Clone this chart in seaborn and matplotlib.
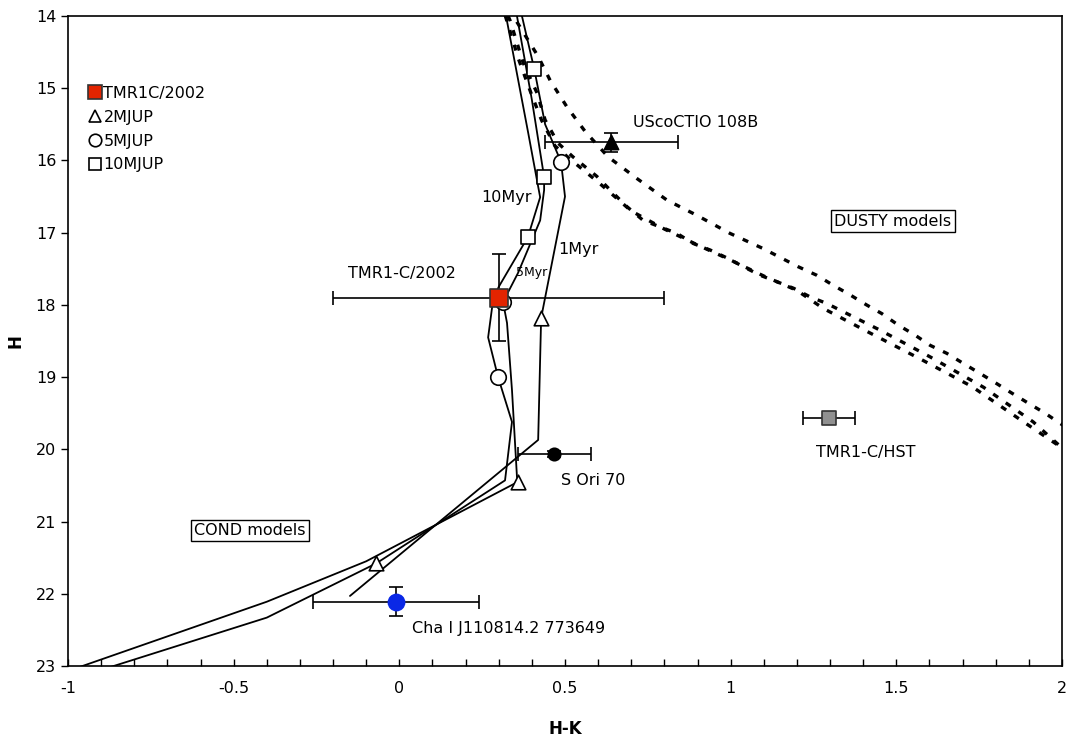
import numpy as np
import pandas as pd
import matplotlib
matplotlib.use("Agg")
import matplotlib.pyplot as plt
from matplotlib.lines import Line2D
import seaborn as sns

# COND isochrones (H-K, H)
iso_1myr_hk = [0.35, 0.37, 0.407, 0.44, 0.488, 0.50, 0.428, 0.419, -0.149]
iso_1myr_h = [13.6, 14.0, 14.73, 15.5, 16.02, 16.5, 18.18, 19.87, 22.03]

iso_5myr_hk = [0.34, 0.355, 0.40, 0.437, 0.437, 0.425, 0.358, 0.313, 0.325, 0.340, 0.355, 0.358,
               -0.10, -0.40, -1.05]
iso_5myr_h = [13.6, 14.0, 15.16, 16.23, 16.41, 16.83, 17.56, 17.96, 18.25, 19.18, 20.38, 20.45,
              21.55, 22.11, 23.15]

iso_10myr_hk = [0.31, 0.322, 0.389, 0.425, 0.388, 0.30, 0.283, 0.268, 0.298, 0.340, 0.319,
                -0.07, -0.40, -1.0]
iso_10myr_h = [13.6, 14.0, 15.62, 16.51, 17.06, 17.75, 17.93, 18.45, 19.0, 19.62, 20.43,
               21.58, 22.33, 23.2]

# DUSTY isochrones
dusty_a_hk = [0.33, 0.364, 0.419, 0.455, 0.506, 0.561, 0.630, 0.717, 0.808, 0.898, 0.998, 1.098,
              1.203, 1.26, 1.31, 1.36, 1.41, 1.456, 1.506, 1.557, 1.602, 1.652, 1.702, 1.753,
              1.803, 1.848, 1.898, 1.949, 1.994, 2.05]
dusty_a_h = [13.9, 14.15, 14.56, 14.89, 15.26, 15.60, 15.95, 16.25, 16.55, 16.76, 17.01, 17.22,
             17.47, 17.59, 17.73, 17.86, 18.0, 18.12, 18.28, 18.42, 18.56, 18.67, 18.81, 18.95,
             19.09, 19.22, 19.36, 19.50, 19.64, 19.80]

dusty_b_hk = [0.31, 0.334, 0.374, 0.416, 0.44, 0.479, 0.524, 0.596, 0.645, 0.687, 0.736, 0.787,
              0.838, 0.887, 0.938, 0.989, 1.038, 1.089, 1.14, 1.19, 1.24, 1.29, 1.451, 1.602,
              1.763, 1.913, 2.0, 2.05]
dusty_b_h = [13.8, 14.06, 14.65, 15.07, 15.44, 15.76, 15.95, 16.22, 16.45, 16.64, 16.83, 16.92,
             17.01, 17.15, 17.24, 17.35, 17.47, 17.59, 17.68, 17.77, 17.89, 17.98, 18.35, 18.72,
             19.14, 19.62, 19.98, 20.15]

dusty_c_hk = [0.30, 0.32, 0.36, 0.40, 0.43, 0.47, 0.52, 0.60, 0.70, 0.80, 0.90, 1.0, 1.1, 1.2,
              1.28, 1.421, 1.577, 1.728, 1.868, 2.0, 2.05]
dusty_c_h = [13.8, 14.0, 14.6, 15.1, 15.45, 15.8, 16.0, 16.3, 16.7, 16.95, 17.17, 17.38, 17.6,
             17.8, 18.05, 18.39, 18.76, 19.13, 19.57, 19.98, 20.15]

# model mass points
mjup2_hk = [0.428, 0.358, -0.07]
mjup2_h = [18.18, 20.45, 21.58]
mjup5_hk = [0.488, 0.313, 0.298]
mjup5_h = [16.02, 17.96, 19.0]
mjup10_hk = [0.407, 0.437, 0.388]
mjup10_h = [14.73, 16.23, 17.06]

# observed objects: name, H-K, H, err(H-K), err(H)
obj_names = ["TMR1-C/2002", "UScoCTIO 108B", "S Ori 70", "TMR1-C/HST", "Cha I J110814.2 773649"]
obj_hk = [0.30, 0.64, 0.467, 1.297, -0.01]
obj_h = [17.9, 15.75, 20.06, 19.56, 22.11]
obj_hk_err = [0.5, 0.2, 0.11, 0.078, 0.25]
obj_h_err = [0.6, 0.13, 0.04, 0.0, 0.2]

sns.set_style("ticks")
plt.rcParams["font.family"] = ["DejaVu Sans"]
plt.rcParams["axes.unicode_minus"] = False
plt.rcParams["text.color"] = "black"
plt.rcParams["xtick.color"] = "black"
plt.rcParams["ytick.color"] = "black"
plt.rcParams["axes.labelcolor"] = "black"

fig = plt.figure(figsize=(10.68, 7.42), dpi=100)
ax = fig.add_axes([68 / 1068, 1 - 666 / 742, 994 / 1068, 650 / 742])

for hk, h in [(iso_1myr_hk, iso_1myr_h), (iso_5myr_hk, iso_5myr_h), (iso_10myr_hk, iso_10myr_h)]:
    sns.lineplot(x=hk, y=h, sort=False, estimator=None, color="black", lw=1.3, ax=ax)

for hk, h in [(dusty_a_hk, dusty_a_h), (dusty_b_hk, dusty_b_h), (dusty_c_hk, dusty_c_h)]:
    sns.lineplot(x=hk, y=h, sort=False, estimator=None, color="black", lw=2.4,
                 linestyle=(0, (1.8, 2.8)), ax=ax)

open_kw = dict(facecolor="white", edgecolor="black", linewidth=1.2, zorder=4, ax=ax)
sns.scatterplot(x=mjup2_hk, y=mjup2_h, marker="^", s=110, **open_kw)
sns.scatterplot(x=mjup5_hk, y=mjup5_h, marker="o", s=125, **open_kw)
sns.scatterplot(x=mjup10_hk, y=mjup10_h, marker="s", s=115, **open_kw)

# error bars
for i in range(len(obj_names)):
    ax.errorbar(obj_hk[i], obj_h[i], xerr=obj_hk_err[i],
                yerr=obj_h_err[i] if obj_h_err[i] > 0 else None,
                fmt="none", ecolor="black", elinewidth=1.2, capsize=5, capthick=1.2, zorder=3)

obj_marker = ["s", "^", "o", "s", "o"]
obj_color = ["#E32400", "black", "black", "#909090", "#0A28E6"]
obj_size = [160, 105, 80, 95, 135]
for i in range(len(obj_names)):
    sns.scatterplot(x=[obj_hk[i]], y=[obj_h[i]], marker=obj_marker[i], s=obj_size[i],
                    color=obj_color[i], edgecolor="#333333" if i in (0, 3) else obj_color[i],
                    linewidth=1.2, zorder=5, ax=ax)

fs = 11.5
ax.text(0.705, 15.48, "UScoCTIO 108B", fontsize=fs, va="center")
ax.text(0.247, 16.52, "10Myr", fontsize=fs, va="center")
ax.text(0.479, 17.23, "1Myr", fontsize=fs, va="center")
ax.text(0.352, 17.55, "5Myr", fontsize=9, va="center")
ax.text(-0.155, 17.56, "TMR1-C/2002", fontsize=fs, va="center")
ax.text(1.49, 16.84, "DUSTY models", fontsize=fs, va="center", ha="center",
        bbox=dict(boxstyle="square,pad=0.2", facecolor="white", edgecolor="black", lw=1))
ax.text(1.258, 20.04, "TMR1-C/HST", fontsize=fs, va="center")
ax.text(0.488, 20.43, "S Ori 70", fontsize=fs, va="center")
ax.text(-0.45, 21.12, "COND models", fontsize=fs, va="center", ha="center",
        bbox=dict(boxstyle="square,pad=0.2", facecolor="white", edgecolor="black", lw=1))
ax.text(0.038, 22.48, "Cha I J110814.2 773649", fontsize=fs, va="center")

handles = [
    Line2D([], [], ls="none", marker="s", ms=10, mfc="#E32400", mec="#333333", mew=1.2),
    Line2D([], [], ls="none", marker="^", ms=9, mfc="white", mec="black", mew=1.2),
    Line2D([], [], ls="none", marker="o", ms=9, mfc="white", mec="black", mew=1.2),
    Line2D([], [], ls="none", marker="s", ms=9, mfc="white", mec="black", mew=1.2),
]
ax.legend(handles, ["TMR1C/2002", "2MJUP", "5MJUP", "10MJUP"], loc="upper left",
          bbox_to_anchor=(0.014, 0.902), frameon=False, fontsize=fs, handlelength=0.8,
          handletextpad=0.15, labelspacing=0.55, borderaxespad=0)

ax.set_xlim(-1, 2)
ax.set_ylim(23, 14)
ax.set_xticks([-1, -0.5, 0, 0.5, 1, 1.5, 2])
ax.set_xticklabels(["-1", "-0.5", "0", "0.5", "1", "1.5", "2"])
ax.set_xticks(np.arange(-1, 2.01, 0.1), minor=True)
ax.set_yticks(range(14, 24))
ax.tick_params(axis="x", which="both", direction="in", length=5, width=1, labelsize=fs, pad=11)
ax.tick_params(axis="y", direction="out", length=5, width=1, labelsize=fs)
for sp in ax.spines.values():
    sp.set_linewidth(1.2)
    sp.set_color("black")
ax.set_xlabel("H-K", fontsize=12, fontweight="bold", labelpad=17)
ax.set_ylabel("H", fontsize=12, fontweight="bold", labelpad=8)

fig.savefig("out.png", dpi=100)
